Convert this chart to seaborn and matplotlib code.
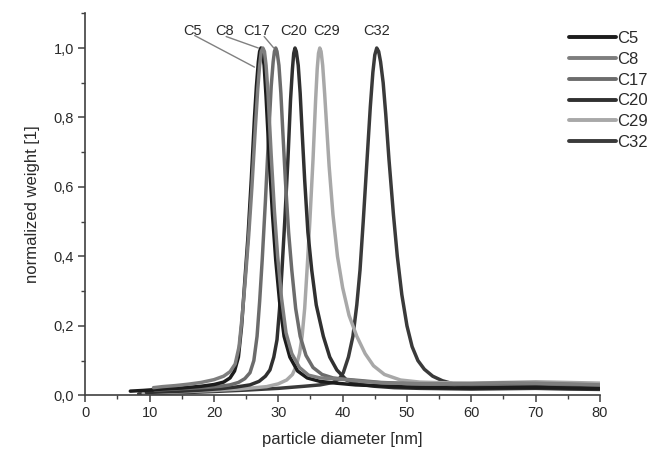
import matplotlib
matplotlib.use("Agg")
import matplotlib.pyplot as plt
from matplotlib.ticker import MultipleLocator, FuncFormatter
import pandas as pd
import seaborn as sns

# Particle size distributions (diameter in nm, normalized weight)
c5_x = [7.0, 9, 12, 15, 18, 20, 21.5, 22.5, 23.2, 23.8, 24.3, 24.8, 25.3, 25.8, 26.3, 26.6, 26.9,
        27.1, 27.3, 27.5, 27.8, 28.1, 28.6, 29.1, 29.6, 30.2, 30.9, 31.8, 33, 34.5, 36.5, 39, 42,
        46, 50, 55, 60, 65, 70, 75, 80]
c5_y = [0.012, 0.014, 0.018, 0.021, 0.026, 0.031, 0.038, 0.05, 0.07, 0.11, 0.2, 0.33, 0.46, 0.62,
        0.8, 0.89, 0.96, 0.99, 1.0, 0.99, 0.95, 0.86, 0.68, 0.52, 0.39, 0.27, 0.17, 0.11, 0.07,
        0.05, 0.04, 0.035, 0.03, 0.027, 0.024, 0.022, 0.021, 0.022, 0.023, 0.021, 0.02]

c8_x = [10.6, 12, 14, 16, 18, 20, 21.5, 22.5, 23.3, 23.9, 24.4, 24.9, 25.4, 25.9, 26.4, 26.8, 27.1,
        27.35, 27.6, 27.85, 28.1, 28.4, 28.9, 29.4, 29.9, 30.5, 31.2, 32.1, 33.3, 34.7, 36.5, 38.5,
        40.5, 43, 46, 50, 55, 60, 65, 70, 75, 80]
c8_y = [0.022, 0.025, 0.028, 0.032, 0.037, 0.045, 0.055, 0.068, 0.09, 0.14, 0.23, 0.34, 0.46, 0.6,
        0.76, 0.88, 0.95, 0.99, 1.0, 0.99, 0.95, 0.87, 0.69, 0.53, 0.4, 0.28, 0.18, 0.12, 0.08,
        0.058, 0.05, 0.048, 0.045, 0.04, 0.036, 0.034, 0.033, 0.034, 0.036, 0.035, 0.033, 0.03]

c17_x = [10.8, 13, 16, 19, 21, 22.5, 23.8, 24.8, 25.6, 26.2, 26.7, 27.1, 27.5, 28.0, 28.5, 28.9,
         29.2, 29.4, 29.6, 29.8, 30.1, 30.4, 30.7, 31.1, 31.6, 32.1, 32.7, 33.4, 34.3, 35.4, 36.8,
         38.5, 40.5, 43, 46, 50, 55, 60, 65, 70, 75, 80]
c17_y = [0.015, 0.017, 0.02, 0.023, 0.026, 0.03, 0.037, 0.048, 0.065, 0.1, 0.17, 0.27, 0.39, 0.56,
         0.75, 0.89, 0.96, 0.99, 1.0, 0.99, 0.95, 0.87, 0.76, 0.62, 0.47, 0.36, 0.25, 0.17, 0.115,
         0.08, 0.06, 0.05, 0.046, 0.042, 0.037, 0.034, 0.032, 0.031, 0.032, 0.033, 0.03, 0.028]

c20_x = [9.5, 12, 15, 18, 21, 23.5, 25.6, 27.0, 28.0, 28.7, 29.3, 29.8, 30.2, 30.6, 31.0, 31.5,
         31.9, 32.2, 32.4, 32.6, 32.8, 33.1, 33.4, 33.7, 34.1, 34.6, 35.2, 35.9, 37.0, 38.0, 39.1,
         40.6, 42.5, 45, 48, 52, 56, 60, 65, 70, 75, 80]
c20_y = [0.008, 0.01, 0.012, 0.015, 0.019, 0.024, 0.03, 0.04, 0.055, 0.073, 0.11, 0.16, 0.25, 0.37,
         0.5, 0.68, 0.85, 0.94, 0.985, 1.0, 0.99, 0.95, 0.87, 0.76, 0.62, 0.47, 0.36, 0.26, 0.17,
         0.11, 0.073, 0.044, 0.032, 0.026, 0.022, 0.02, 0.019, 0.018, 0.019, 0.02, 0.018, 0.017]

c29_x = [9, 12, 16, 20, 24, 28.2, 30.0, 31.3, 32.2, 32.8, 33.3, 33.7, 34.1, 34.5, 34.9, 35.4, 35.8,
         36.05, 36.25, 36.45, 36.65, 36.9, 37.2, 37.5, 37.9, 38.5, 39.2, 40.0, 41.0, 42.2, 43.5,
         44.8, 46.5, 49, 52, 56, 60, 65, 70, 75, 80]
c29_y = [0.006, 0.008, 0.011, 0.014, 0.018, 0.025, 0.033, 0.044, 0.06, 0.085, 0.12, 0.17, 0.25,
         0.37, 0.5, 0.68, 0.85, 0.94, 0.985, 1.0, 0.99, 0.95, 0.87, 0.78, 0.66, 0.52, 0.4, 0.31,
         0.23, 0.17, 0.12, 0.085, 0.06, 0.044, 0.038, 0.036, 0.035, 0.037, 0.039, 0.037, 0.035]

c32_x = [8.3, 12, 16, 20, 25, 30, 34, 36.5, 38.5, 39.5, 40.1, 40.9, 41.6, 42.2, 42.7, 43.2, 43.8,
         44.3, 44.7, 45.0, 45.3, 45.6, 45.9, 46.3, 46.7, 47.2, 47.9, 48.5, 49.2, 50.0, 50.8, 51.7,
         52.7, 54.0, 55.5, 57.8, 61, 65, 70, 75, 80]
c32_y = [0.004, 0.006, 0.008, 0.011, 0.015, 0.02, 0.026, 0.03, 0.037, 0.048, 0.065, 0.11, 0.17,
         0.26, 0.36, 0.5, 0.68, 0.83, 0.93, 0.98, 1.0, 0.99, 0.96, 0.9, 0.81, 0.68, 0.52, 0.4,
         0.29, 0.2, 0.14, 0.1, 0.075, 0.055, 0.042, 0.03, 0.026, 0.025, 0.027, 0.025, 0.024]

samples = ["C5", "C8", "C17", "C20", "C29", "C32"]
series = {"C5": (c5_x, c5_y), "C8": (c8_x, c8_y), "C17": (c17_x, c17_y),
          "C20": (c20_x, c20_y), "C29": (c29_x, c29_y), "C32": (c32_x, c32_y)}
colors = {"C5": "#1c1c1c", "C8": "#7e7e7e", "C17": "#6c6c6c",
          "C20": "#303030", "C29": "#a8a8a8", "C32": "#3a3a3a"}

frames = []
for name in samples:
    xs, ys = series[name]
    frames.append(pd.DataFrame({"diameter": xs, "weight": ys, "sample": name}))
df = pd.concat(frames, ignore_index=True)

sns.set_style("ticks")
plt.rcParams["font.family"] = ["Liberation Sans", "DejaVu Sans"]

fig = plt.figure(figsize=(6.54, 4.55), dpi=100)
ax = fig.add_axes([0.1304, 0.1312, 0.787, 0.8396])

draw_order = ["C32", "C29", "C20", "C17", "C5", "C8"]
for name in draw_order:
    sub = df[df["sample"] == name]
    sns.lineplot(data=sub, x="diameter", y="weight", color=colors[name], lw=2.5,
                 sort=False, ax=ax, label=name, legend=False)

ax.set_xlim(0, 80)
ax.set_ylim(0, 1.1)
ax.xaxis.set_major_locator(MultipleLocator(10))
ax.xaxis.set_minor_locator(MultipleLocator(5))
ax.yaxis.set_major_locator(MultipleLocator(0.2))
ax.yaxis.set_minor_locator(MultipleLocator(0.1))
ax.yaxis.set_major_formatter(FuncFormatter(lambda v, p: f"{v:.1f}".replace(".", ",")))
ax.xaxis.set_major_formatter(FuncFormatter(lambda v, p: f"{v:.0f}"))

sns.despine(ax=ax)
for side in ("left", "bottom"):
    ax.spines[side].set_color("#404040")
    ax.spines[side].set_linewidth(1.2)
ax.tick_params(which="major", direction="out", length=5, width=1.1, color="#404040",
               labelsize=10.5, labelcolor="#2a2a2a", pad=3)
ax.tick_params(which="minor", direction="out", length=3, width=1.0, color="#404040")

ax.set_xlabel("particle diameter [nm]", fontsize=12, color="#2a2a2a", labelpad=8)
ax.set_ylabel("normalized weight [1]", fontsize=12, color="#2a2a2a", labelpad=10)

# Peak labels with leader lines for the overlapping curves
peak_labels = {"C5": 16.7, "C8": 21.6, "C17": 26.7, "C20": 32.4, "C29": 37.5, "C32": 45.3}
for name, xl in peak_labels.items():
    ax.text(xl, 1.05, name, ha="center", va="center", fontsize=10.5, color="#2a2a2a",
            clip_on=False)
leader_kw = dict(color="#808080", lw=1.0, clip_on=False)
ax.plot([17.0, 26.3], [1.036, 0.945], **leader_kw)
ax.plot([21.9, 26.9], [1.033, 1.0], **leader_kw)
ax.plot([27.8, 29.3], [1.033, 1.0], **leader_kw)

handles, labels = ax.get_legend_handles_labels()
hmap = dict(zip(labels, handles))
leg = fig.legend([hmap[n] for n in samples], samples, loc="upper left",
                 bbox_to_anchor=(0.870, 0.932), frameon=False, fontsize=12,
                 handlelength=2.8, handletextpad=0.1, labelspacing=0.35,
                 borderpad=0, borderaxespad=0)
for line in leg.get_lines():
    line.set_linewidth(2.8)
for t in leg.get_texts():
    t.set_color("#2a2a2a")

fig.savefig("out.png", dpi=100)
